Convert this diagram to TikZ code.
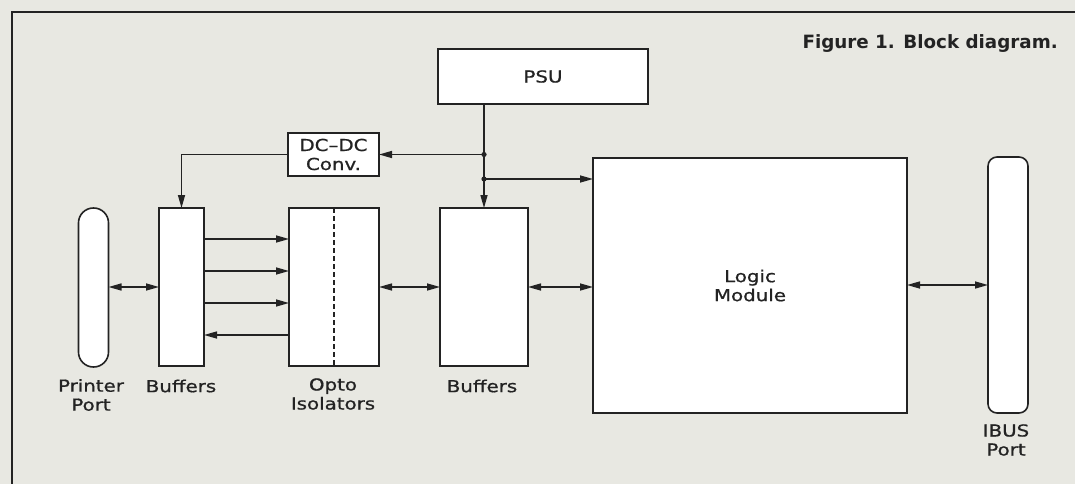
\documentclass[tikz,border=0pt]{standalone}
\usepackage{fontspec}
\setmainfont{DejaVu Sans}
\newfontfamily\lblfont[FakeBold=0.8,Ligatures=TeX]{DejaVu Sans}
\usetikzlibrary{arrows.meta,calc}
\definecolor{paper}{RGB}{232,232,226}
\definecolor{ink}{RGB}{35,35,35}
\newcommand{\wx}[1]{\scalebox{1.2}[1]{#1}}
\begin{document}
\begin{tikzpicture}[x=1pt,y=-1pt,
  box/.style={draw=ink, fill=white, line width=1.6pt, inner sep=0pt, outer sep=0pt, text=ink, font=\lblfont\fontsize{16.5}{19}\selectfont, align=center},
  conn/.style={draw=ink, line width=1.5pt},
  arr/.style={conn, -{Triangle[length=13pt,width=7pt]}},
  darr/.style={conn, {Triangle[length=13pt,width=7pt]}-{Triangle[length=13pt,width=7pt]}},
  lbl/.style={text=ink, font=\lblfont\fontsize{16.5}{19}\selectfont, align=center, inner sep=0pt},
]
\useasboundingbox (0,0) rectangle (1075,484);
\fill[paper] (0,0) rectangle (1075,484);
\draw[ink, line width=2.2pt] (12,484) -- (12,12) -- (1075,12);

% title
\node[anchor=base east, inner sep=0pt, text=ink, font=\bfseries\fontsize{18.3}{20}\selectfont] (title) at (1058,49) {Figure 1. Block diagram.};

% boxes
\node[box, minimum width=210pt, minimum height=55pt] (psu) at (543,76.5) {\wx{PSU}};
\node[box, minimum width=91pt, minimum height=43pt] (dcdc) at (333.5,154.5) {\wx{DC–DC}\\\wx{Conv.}};
\node[box, minimum width=30pt, minimum height=159pt, rounded corners=14.9pt] (pp) at (93.5,287.5) {};
\node[box, minimum width=45pt, minimum height=158pt] (buf1) at (181.5,287) {};
\node[box, minimum width=90pt, minimum height=158pt] (opto) at (334,287) {};
\node[box, minimum width=88pt, minimum height=158pt] (buf2) at (484,287) {};
\node[box, minimum width=314pt, minimum height=255pt] (logic) at (750,285.5) {\wx{Logic}\\\wx{Module}};
\node[box, minimum width=40pt, minimum height=256pt, rounded corners=9pt] (ibus) at (1008,285) {};

\draw[ink, line width=1.2pt, dash pattern=on 5pt off 3pt] (opto.north) -- (opto.south);

% labels
\node[lbl] (pplbl) at (91,395) {\wx{Printer}\\\wx{Port}};
\node[lbl] (b1lbl) at (181,386) {\wx{Buffers}};
\node[lbl] (optolbl) at (333,394) {\wx{Opto}\\\wx{Isolators}};
\node[lbl] (b2lbl) at (482,386) {\wx{Buffers}};
\node[lbl] (ibuslbl) at (1006,440) {\wx{IBUS}\\\wx{Port}};

% power distribution
\coordinate (j1) at (buf2.north |- dcdc.east);
\coordinate (j2) at (buf2.north |- 0,179);
\draw[arr] (buf2.north |- psu.south) -- (buf2.north);
\fill[ink] (j1) circle (2.6pt);
\fill[ink] (j2) circle (2.6pt);
\draw[arr] (j1) -- (dcdc.east);
\draw[arr] (dcdc.west) -| (buf1.north);
\draw[arr] (j2) -- (logic.west |- j2);

% signal paths
\draw[darr] (pp.east |- 0,287) -- (buf1.west |- 0,287);
\foreach \yy in {239,271,303} \draw[arr] (buf1.east |- 0,\yy) -- (opto.west |- 0,\yy);
\draw[arr] (opto.west |- 0,335) -- (buf1.east |- 0,335);
\draw[darr] (opto.east |- 0,287) -- (buf2.west |- 0,287);
\draw[darr] (buf2.east |- 0,287) -- (logic.west |- 0,287);
\draw[darr] (logic.east |- 0,285) -- (ibus.west |- 0,285);
\end{tikzpicture}
\end{document}
